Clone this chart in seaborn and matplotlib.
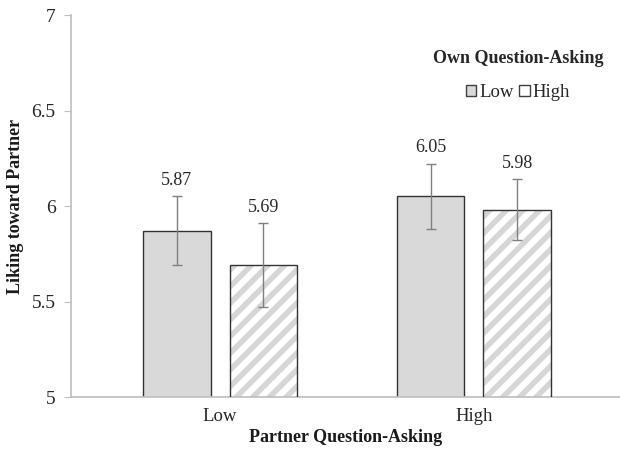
import pandas as pd
import matplotlib.pyplot as plt
import seaborn as sns
from matplotlib.patches import Patch, Rectangle

# data
partner = ['Low', 'Low', 'High', 'High']
own = ['Low', 'High', 'Low', 'High']
liking = [5.87, 5.69, 6.05, 5.98]
err = [0.18, 0.22, 0.17, 0.16]

df = pd.DataFrame({'partner': partner, 'own': own, 'liking': liking, 'err': err})

sns.set_style('white')
plt.rcParams['font.family'] = ['Liberation Serif', 'DejaVu Serif']
plt.rcParams['hatch.linewidth'] = 4

fig = plt.figure(figsize=(6.2, 4.49), dpi=100)
ax = fig.add_axes([71 / 620, 52 / 449, 549 / 620, 382 / 449])

sns.barplot(data=df, x='partner', y='liking', hue='own', order=['Low', 'High'],
            hue_order=['Low', 'High'], palette=['#d9d9d9', 'white'],
            width=0.68, gap=0.22, errorbar=None, edgecolor='#333333',
            linewidth=1.0, legend=False, ax=ax)

bars = list(ax.patches)
for i, b in enumerate(bars):
    row = df.iloc[[0, 2, 1, 3][i]]
    if row['own'] == 'High':
        # hatch takes the edge colour, so draw the outline separately
        b.set_hatch('//')
        b.set_edgecolor('#d6d6d6')
        b.set_linewidth(0)
        ax.add_patch(Rectangle(b.get_xy(), b.get_width(), b.get_height(),
                               fill=False, edgecolor='#333333', lw=1.0, zorder=3))
    cx = b.get_x() + b.get_width() / 2
    ax.errorbar(cx, row['liking'], yerr=row['err'], color='#808080',
                capsize=3.5, elinewidth=1, capthick=1, zorder=4)
    ax.text(cx, row['liking'] + row['err'] + 0.04, f"{row['liking']:.2f}",
            ha='center', va='bottom', fontsize=13, color='#262626')

ax.set_ylim(5, 7)
ax.set_xlim(-0.587, 1.575)
ax.set_yticks([5, 5.5, 6, 6.5, 7])
ax.set_yticklabels(['5', '5.5', '6', '6.5', '7'])
ax.tick_params(axis='y', labelsize=14, length=5, color='#bfbfbf', left=True,
               labelcolor='#262626', pad=6)
ax.tick_params(axis='x', labelsize=13.5, length=0, labelcolor='#262626', pad=8)
for s in ['top', 'right']:
    ax.spines[s].set_visible(False)
for s in ['left', 'bottom']:
    ax.spines[s].set_color('#bfbfbf')
    ax.spines[s].set_linewidth(1.2)

ax.set_xlabel('Partner Question-Asking', fontsize=13, fontweight='bold',
              color='#1a1a1a')
ax.set_ylabel('Liking toward Partner', fontsize=13, fontweight='bold',
              color='#1a1a1a')
ax.yaxis.set_label_coords(-0.102, 0.5)
ax.yaxis.label.set_va('center')
ax.xaxis.set_label_coords(0.5, -0.107)
ax.xaxis.label.set_va('center')

handles = [Patch(facecolor='#d9d9d9', edgecolor='#404040', label='Low'),
           Patch(facecolor='white', edgecolor='#404040', label='High')]
leg = ax.legend(handles=handles, title='Own Question-Asking', ncol=2,
                frameon=False, loc='upper right', bbox_to_anchor=(1.0, 0.952),
                fontsize=13.5, handlelength=0.55, handleheight=0.55,
                handletextpad=0.15, columnspacing=0.3)
leg.get_title().set_fontweight('bold')
leg.get_title().set_fontsize(13)
leg._legend_box.sep = 12

fig.savefig('out.png', dpi=100)
